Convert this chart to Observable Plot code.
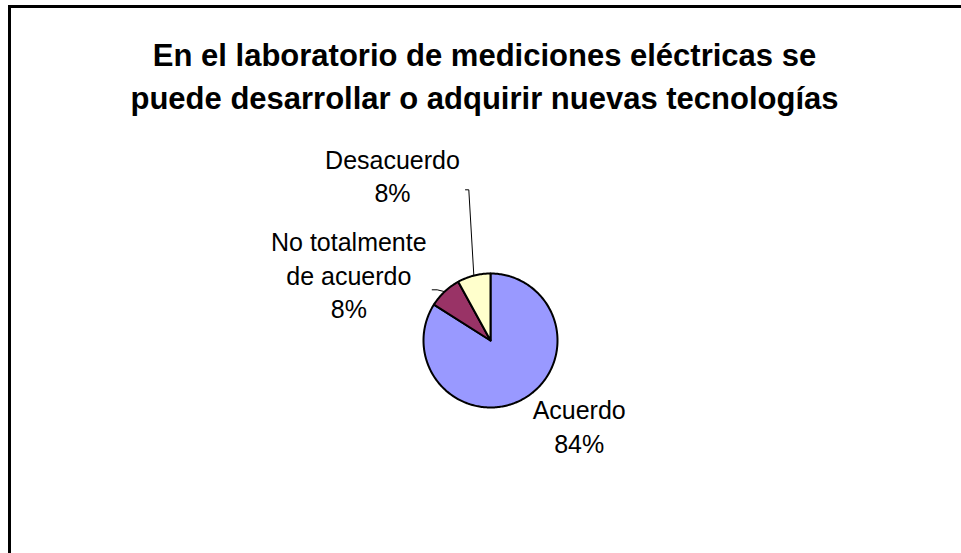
<!DOCTYPE html>
<html>
<head>
<meta charset="utf-8">
<script src="https://cdn.jsdelivr.net/npm/d3@7"></script>
<script src="https://cdn.jsdelivr.net/npm/@observablehq/plot@0.6"></script>
<style>
  html, body { margin: 0; padding: 0; background: #fff; overflow: hidden; }
  #wrap { position: relative; width: 961px; height: 553px; }
  #border { position: absolute; left: 8px; top: 5px; width: 2000px; height: 2000px;
            border: 3px solid #000; pointer-events: none; box-sizing: border-box; }
</style>
</head>
<body>
<div id="wrap"><div id="border"></div></div>
<script>
// ---- data ----
const categories = ["Acuerdo", "No totalmente de acuerdo", "Desacuerdo"];
const values = [84, 8, 8];
const percentLabels = ["84%", "8%", "8%"];
const labelLines = ["Acuerdo", "No totalmente\nde acuerdo", "Desacuerdo"];
const sliceColors = ["#9999FF", "#993366", "#FFFFCC"];
const titleLines = [
  "En el laboratorio de mediciones eléctricas se",
  "puede desarrollar o adquirir nuevas tecnologías"
];

// ---- layout ----
const W = 961, H = 553;
const cx = 490, cy = 340, R = 67;
const labelAnchor = [ // text centre x, cap-top y
  {x: 578.7, y: 413},
  {x: 348.3, y: 245},
  {x: 392, y: 162.5}
];
const leaderStart = [null, [[431.7, 289.3], [436.7, 289.3]], [[465, 189.3], [468.3, 189.3]]];

// ---- pie geometry from data ----
const arcs = d3.pie().sort(null).value(d => d)(values);
const polyPts = [];
arcs.forEach((a, i) => {
  const n = Math.max(2, Math.ceil((a.endAngle - a.startAngle) / (Math.PI / 180)));
  polyPts.push({x: cx, y: cy, cat: categories[i]});
  for (let k = 0; k <= n; k++) {
    const t = a.startAngle + (a.endAngle - a.startAngle) * k / n;
    polyPts.push({x: cx + R * Math.sin(t), y: cy - R * Math.cos(t), cat: categories[i]});
  }
  polyPts.push({x: cx, y: cy, cat: categories[i]});
});

const leaderPts = [];
arcs.forEach((a, i) => {
  if (!leaderStart[i]) return;
  const mid = (a.startAngle + a.endAngle) / 2;
  leaderStart[i].forEach(([x, y]) => leaderPts.push({x, y, cat: categories[i]}));
  leaderPts.push({x: cx + R * Math.sin(mid), y: cy - R * Math.cos(mid), cat: categories[i]});
});

const labelData = categories.map((c, i) => ({
  x: labelAnchor[i].x,
  y: labelAnchor[i].y - 0.71 * 25,
  text: labelLines[i] + "\n" + percentLabels[i]
}));

const titleData = [{x: 484, y: 56.5 - 0.71 * 31, text: titleLines.join("\n")}];

const chart = Plot.plot({
  width: W, height: H,
  margin: 0,
  x: {domain: [0, W], range: [0, W], axis: null},
  y: {domain: [0, H], range: [0, H], axis: null},
  color: {domain: categories, range: sliceColors},
  style: {fontFamily: "'Liberation Sans', Arial, sans-serif", background: "#fff"},
  marks: [
    Plot.line(polyPts, {x: "x", y: "y", z: "cat", fill: "cat", stroke: "#000",
                        strokeWidth: 2, strokeLinejoin: "round"}),
    Plot.line(leaderPts, {x: "x", y: "y", z: "cat", stroke: "#000", strokeWidth: 1}),
    Plot.text(labelData, {x: "x", y: "y", text: "text", lineAnchor: "top", lineHeight: 1.33,
                          fontSize: 25, fill: "#000", textAnchor: "middle"}),
    Plot.text(titleData, {x: "x", y: "y", text: "text", lineAnchor: "top", lineHeight: 1.4,
                          fontSize: 31, fontWeight: "bold", fill: "#000", textAnchor: "middle"})
  ]
});
document.getElementById("wrap").prepend(chart);
</script>
</body>
</html>
